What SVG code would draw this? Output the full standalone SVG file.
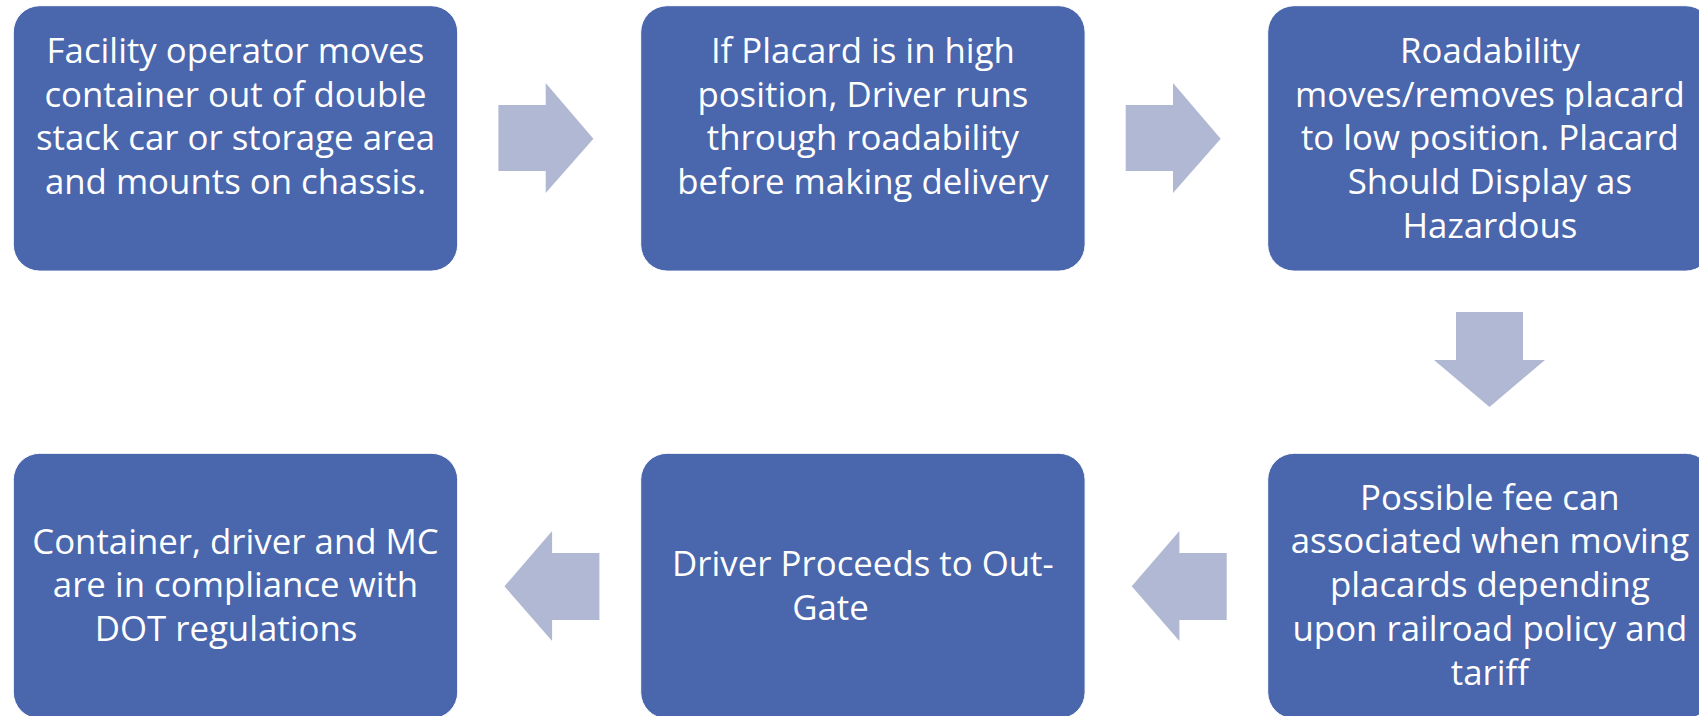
<svg xmlns="http://www.w3.org/2000/svg" width="1699" height="716" viewBox="0 0 1699 716">
<style>
.box{fill:#4A66AC;stroke:#ffffff;stroke-width:1}
.arr{fill:#B0B8D3}
text{font-family:"Open Sans",Lato,"Liberation Sans",sans-serif;font-size:34.8px;fill:#ffffff;text-anchor:middle}
</style>
<rect width="1699" height="716" fill="#ffffff"/>
<g id="connectors">
<polygon class="arr" points="498.4,105 545.7,105 545.7,83 593.4,138.7 545.7,193 545.7,171 498.4,171"/>
<polygon class="arr" points="1125.7,105 1173,105 1173,83 1220.7,138.7 1173,193 1173,171 1125.7,171"/>
<polygon class="arr" points="1456,312 1523,312 1523,360 1545,360 1489.5,407 1434,360 1456,360"/>
<polygon class="arr" points="1226.7,553 1179.4,553 1179.4,531 1131.7,586.3 1179.4,641 1179.4,620 1226.7,620"/>
<polygon class="arr" points="599.4,553 552.1,553 552.1,531 504.4,586.3 552.1,641 552.1,620 599.4,620"/>
</g>
<g id="node1">
<rect class="box" x="13.3" y="5.7" width="444.4" height="265.4" rx="26.5"/>
<text x="235.5" y="63">Facility operator moves</text>
<text x="235.5" y="107">container out of double</text>
<text x="235.5" y="150">stack car or storage area</text>
<text x="235.5" y="194">and mounts on chassis.</text>
</g>
<g id="node2">
<rect class="box" x="640.7" y="5.7" width="444.4" height="265.4" rx="26.5"/>
<text x="862.9" y="63">If Placard is in high</text>
<text x="862.9" y="107">position, Driver runs</text>
<text x="862.9" y="150">through roadability</text>
<text x="862.9" y="194">before making delivery</text>
</g>
<g id="node3">
<rect class="box" x="1267.7" y="5.7" width="444.4" height="265.4" rx="26.5"/>
<text x="1489.9" y="63">Roadability</text>
<text x="1489.9" y="107">moves/removes placard</text>
<text x="1489.9" y="150">to low position. Placard</text>
<text x="1489.9" y="194">Should Display as</text>
<text x="1489.9" y="238">Hazardous</text>
</g>
<g id="node6">
<rect class="box" x="1267.7" y="453.3" width="444.4" height="265.4" rx="26.5"/>
<text x="1489.9" y="510">Possible fee can</text>
<text x="1489.9" y="553">associated when moving</text>
<text x="1489.9" y="597">placards depending</text>
<text x="1489.9" y="641">upon railroad policy and</text>
<text x="1489.9" y="685">tariff</text>
</g>
<g id="node5">
<rect class="box" x="640.7" y="453.3" width="444.4" height="265.4" rx="26.5"/>
<text x="862.9" y="576">Driver Proceeds to Out-</text>
<text x="830.5" y="620">Gate</text>
</g>
<g id="node4">
<rect class="box" x="13.3" y="453.3" width="444.4" height="265.4" rx="26.5"/>
<text x="235.5" y="554">Container, driver and MC</text>
<text x="235.5" y="597">are in compliance with</text>
<text x="226" y="641">DOT regulations</text>
</g>
</svg>
